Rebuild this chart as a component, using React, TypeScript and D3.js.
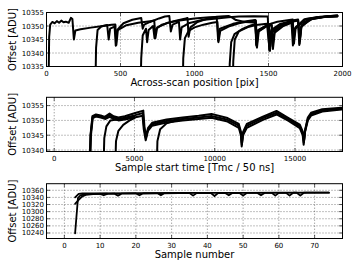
import React from "react";
import * as d3 from "d3";

type Pt = [number, number];

// ---------- Panel 1: Across-scan position ----------
const p1XTicks = [0, 500, 1000, 1500, 2000];
const p1YTicks = [10335, 10340, 10345, 10350, 10355];
const p1S1: Pt[] = [[12,10320],[18,10346],[25,10350.5],[40,10351.5],[55,10351],[70,10351.8],[85,10351.2],[100,10352],[115,10351.4],[130,10351.6],[150,10351.2],[165,10353],[175,10352.6],[185,10345],[195,10348.3],[230,10348.8],[300,10349.4],[380,10350],[440,10350.5],[465,10350.6],[472,10343],[482,10348.5],[540,10350.3],[620,10351.2],[700,10351.8],[728,10352],[736,10345.5],[748,10349.5],[820,10351.2],[900,10352],[1000,10352.8],[1100,10353.2],[1150,10353.3],[1160,10344.5],[1172,10349],[1260,10350.8],[1350,10351.8],[1410,10352.2],[1420,10342.5],[1432,10348.5],[1500,10350.6],[1560,10351.6],[1640,10352.2],[1664,10352.4],[1672,10343.5],[1684,10349.5],[1750,10352.6],[1850,10353.4],[1965,10353.8]];
const p1S2: Pt[] = [[328,10320],[335,10342],[345,10348.5],[370,10349.8],[410,10350.4],[420,10345],[430,10349],[460,10349.8],[468,10342.7],[478,10348.5],[520,10351],[580,10352.3],[640,10353],[650,10349],[660,10350.5],[700,10351.5],[760,10352.8],[800,10353.5],[830,10353.7],[840,10348],[852,10350.5],[895,10351.5],[903,10345],[913,10349.5],[960,10351],[1050,10352.2],[1150,10352.8],[1230,10353.2],[1300,10353.5],[1400,10353.6],[1495,10353.5],[1505,10341],[1518,10348.5],[1580,10350.8],[1660,10352],[1700,10352.4],[1710,10343.5],[1722,10350],[1800,10352.8],[1900,10353.6],[1965,10353.9]];
const p1S3: Pt[] = [[633,10320],[640,10338],[650,10346.5],[672,10349],[680,10344],[690,10348.5],[720,10350],[730,10345.5],[742,10349],[780,10350.5],[860,10351.8],[940,10352.8],[953,10353],[960,10346],[972,10349.5],[1020,10351.5],[1090,10352.8],[1150,10353.4],[1200,10353.6],[1230,10353.7],[1250,10353.3],[1280,10352.2],[1340,10351.5],[1410,10351.3],[1418,10343],[1430,10348.5],[1500,10350.5],[1520,10350.8],[1528,10342.5],[1540,10348],[1600,10350.8],[1655,10351.8],[1665,10342.8],[1677,10349],[1740,10352.4],[1820,10353.2],[1965,10353.6]];
const p1S4: Pt[] = [[918,10320],[924,10338],[935,10345.5],[960,10348.2],[1000,10349.5],[1060,10350.5],[1120,10351.2],[1155,10351.5],[1162,10344],[1174,10348.2],[1230,10349.8],[1300,10351],[1380,10351.8],[1415,10352],[1422,10342],[1434,10348],[1490,10350],[1503,10350.3],[1510,10340.8],[1522,10348],[1580,10350.5],[1660,10351.6],[1700,10352],[1708,10343],[1720,10349.5],[1780,10352.4],[1870,10353.3],[1965,10353.7]];
const p1S5: Pt[] = [[1233,10320],[1238,10336],[1248,10344],[1270,10347],[1320,10348.8],[1380,10350.2],[1412,10350.8],[1419,10343],[1430,10348],[1480,10349.8],[1522,10350.3],[1530,10341.5],[1542,10347.5],[1600,10350],[1660,10351.3],[1668,10344],[1680,10349],[1720,10351],[1780,10352.5],[1880,10353.3],[1965,10353.5]];
const p1S6: Pt[] = [[1256,10320],[1262,10337],[1272,10345],[1300,10348],[1360,10349.6],[1430,10350.5],[1490,10350.8],[1500,10345],[1508,10341.5],[1520,10347.5],[1580,10350],[1640,10351.4],[1700,10352.2],[1712,10344.5],[1724,10350.3],[1790,10352.8],[1900,10353.6],[1965,10353.9]];

// ---------- Panel 2: Sample start time ----------
const p2XTicks = [0, 5000, 10000, 15000];
const p2YTicks = [10340, 10345, 10350, 10355];
const p2A: Pt[] = [[2180,10330],[2260,10345],[2380,10351.4],[2600,10352],[2900,10351.7],[3150,10351.2],[3450,10352.3],[3700,10351.4],[4000,10351],[4400,10351.4],[5000,10352.4],[5550,10353.3],[5620,10348],[5720,10344.5],[5850,10347.5],[6100,10349.2],[7000,10350.3],[8000,10351],[9000,10351.6],[9800,10352.2],[10800,10350.8],[11500,10348.8],[11640,10346],[11690,10342.5],[11760,10346],[12000,10348.8],[13000,10351.3],[13850,10353.2],[14600,10350.8],[15300,10348.6],[15500,10346],[15560,10343],[15640,10347],[15800,10351],[16000,10352.6],[16700,10353.8],[17900,10354.3]];
const p2B: Pt[] = [[2200,10330],[2290,10345],[2400,10350.8],[2600,10351.3],[2900,10351],[3200,10350.5],[3450,10351.2],[3700,10350.5],[4000,10350],[4400,10350.3],[5000,10351],[5500,10351.6],[5580,10347],[5700,10343.3],[5840,10346.5],[6100,10348.2],[7000,10349.3],[8000,10350],[9000,10350.5],[9800,10350.9],[10800,10349.6],[11500,10347.5],[11630,10345],[11680,10341.2],[11760,10345],[12000,10347.5],[13000,10350.2],[13850,10352],[14600,10349.8],[15300,10347.4],[15480,10345],[15540,10341.8],[15620,10346],[15800,10350],[16000,10351.6],[16700,10353],[17900,10353.7]];
const p2C: Pt[] = [[2190,10330],[2270,10345],[2390,10351.1],[2600,10351.6],[2900,10351.3],[3180,10350.9],[3450,10351.8],[3700,10351],[4000,10350.5],[4400,10350.9],[5000,10351.7],[5530,10352.5],[5600,10347.5],[5710,10344],[5845,10347],[6100,10348.7],[7000,10349.8],[8000,10350.5],[9000,10351],[9800,10351.5],[10800,10350.2],[11500,10348.2],[11640,10345.5],[11690,10341.8],[11770,10345.5],[12000,10348.2],[13000,10350.8],[13850,10352.6],[14600,10350.3],[15300,10348],[15490,10345.5],[15550,10342.5],[15630,10346.5],[15800,10350.5],[16000,10352.1],[16700,10353.4],[17900,10354]];
const p2D: Pt[] = [[3050,10330],[3120,10344],[3250,10348],[3500,10350],[3800,10350.2],[4400,10350.6],[5000,10351.4]];
const p2E: Pt[] = [[3780,10330],[3850,10343],[4000,10346.5],[4300,10348.5],[4700,10350],[5000,10350.8]];
const p2F: Pt[] = [[6370,10330],[6430,10343],[6600,10347],[7000,10349],[7500,10349.8],[8000,10350.3]];

// ---------- Panel 3: Sample number ----------
const p3XTicks = [0, 10, 20, 30, 40, 50, 60, 70];
const p3YTicks = [10240, 10260, 10280, 10300, 10320, 10340, 10360];
const p3A: Pt[] = [[3,10239],[3.8,10338],[4.5,10346],[6,10349.5],[8,10350],[10,10350],[11,10346],[12,10350],[14,10350.5],[15,10345],[16,10350.5],[20,10351],[21,10346],[22,10351],[26,10351.5],[27,10346],[28,10351.5],[32,10351.8],[35,10352],[36,10345],[37,10352],[41,10352],[42,10344],[43,10352],[45,10352.3],[46,10346],[47,10352.3],[49,10352.5],[50,10345],[51,10352.5],[54,10352.6],[55,10346],[56,10352.6],[58,10352.7],[59,10345],[60,10352.8],[62,10352.8],[63,10345],[64,10353],[65,10353],[66,10345],[67,10353],[68,10353.2],[74,10353.4]];
const p3B: Pt[] = [[3,10340],[4,10350],[5,10351],[10,10351.5],[20,10352],[30,10352.3],[40,10352.6],[50,10352.8],[60,10353],[74,10353.2]];
const p3C: Pt[] = [[3,10322],[4,10333],[5,10343],[6,10347],[8,10349.5],[12,10350.5]];

type PanelProps = {
  top: number; bottom: number;
  xDomain: [number, number]; yDomain: [number, number];
  xTicks: number[]; yTicks: number[];
  series: Pt[][]; xlabel: string; id: string; sw: number;
};

const LEFT = 46.5, RIGHT = 342.5;
const FONT = "DejaVu Sans";

function Panel({ top, bottom, xDomain, yDomain, xTicks, yTicks, series, xlabel, id, sw }: PanelProps) {
  const x = d3.scaleLinear().domain(xDomain).range([LEFT, RIGHT]);
  const y = d3.scaleLinear().domain(yDomain).range([bottom, top]);
  const line = d3.line<Pt>().x(d => x(d[0])).y(d => y(d[1]));
  const tl = 3.5;
  return (
    <g>
      <defs>
        <clipPath id={id}>
          <rect x={LEFT} y={top} width={RIGHT - LEFT} height={bottom - top} />
        </clipPath>
      </defs>
      <rect x={LEFT} y={top} width={RIGHT - LEFT} height={bottom - top} fill="white" />
      {xTicks.map(t => (
        <line key={"gx" + t} x1={x(t)} x2={x(t)} y1={top} y2={bottom} stroke="#000" strokeWidth={0.5} strokeDasharray="1,2" />
      ))}
      {yTicks.map(t => (
        <line key={"gy" + t} x1={LEFT} x2={RIGHT} y1={y(t)} y2={y(t)} stroke="#000" strokeWidth={0.5} strokeDasharray="1,2" />
      ))}
      <g clipPath={`url(#${id})`}>
        {series.map((s, i) => (
          <path key={i} d={line(s) || ""} fill="none" stroke="#000" strokeWidth={sw} strokeLinejoin="round" strokeLinecap="round" />
        ))}
      </g>
      {xTicks.map(t => (
        <g key={"tx" + t}>
          <line x1={x(t)} x2={x(t)} y1={bottom} y2={bottom - tl} stroke="#000" strokeWidth={0.6} />
          <line x1={x(t)} x2={x(t)} y1={top} y2={top + tl} stroke="#000" strokeWidth={0.6} />
          <text x={x(t)} y={bottom + 9} fontSize={7} fontFamily={FONT} textAnchor="middle">{t}</text>
        </g>
      ))}
      {yTicks.map(t => (
        <g key={"ty" + t}>
          <line x1={LEFT} x2={LEFT + tl} y1={y(t)} y2={y(t)} stroke="#000" strokeWidth={0.6} />
          <line x1={RIGHT} x2={RIGHT - tl} y1={y(t)} y2={y(t)} stroke="#000" strokeWidth={0.6} />
          <text x={LEFT - 2.5} y={y(t) + 2.5} fontSize={7} fontFamily={FONT} textAnchor="end">{t}</text>
        </g>
      ))}
      <rect x={LEFT} y={top} width={RIGHT - LEFT} height={bottom - top} fill="none" stroke="#000" strokeWidth={1} />
      <text x={(LEFT + RIGHT) / 2} y={bottom + 19.5} fontSize={10} fontFamily={FONT} textAnchor="middle">{xlabel}</text>
      <text transform={`translate(16,${(top + bottom) / 2}) rotate(-90)`} fontSize={10} fontFamily={FONT} textAnchor="middle">Offset [ADU]</text>
    </g>
  );
}

export default function App() {
  return (
    <svg width={360} height={270} style={{ position: "absolute", left: 0, top: 0, background: "white" }}>
      <rect width={360} height={270} fill="white" />
      <Panel id="c1" top={12.5} bottom={66.5} xDomain={[0, 2000]} yDomain={[10335, 10355]}
        xTicks={p1XTicks} yTicks={p1YTicks} series={[p1S1, p1S2, p1S3, p1S4, p1S5, p1S6]}
        xlabel="Across-scan position [pix]" sw={2} />
      <Panel id="c2" top={97.3} bottom={151.5} xDomain={[-480, 17960]} yDomain={[10339.5, 10357.8]}
        xTicks={p2XTicks} yTicks={p2YTicks} series={[p2A, p2C, p2B, p2D, p2E, p2F]}
        xlabel="Sample start time [Tmc / 50 ns]" sw={2} />
      <Panel id="c3" top={183.7} bottom={238.5} xDomain={[-5, 77.8]} yDomain={[10224.5, 10378.5]}
        xTicks={p3XTicks} yTicks={p3YTicks} series={[p3A, p3B, p3C]}
        xlabel="Sample number" sw={1.8} />
    </svg>
  );
}
